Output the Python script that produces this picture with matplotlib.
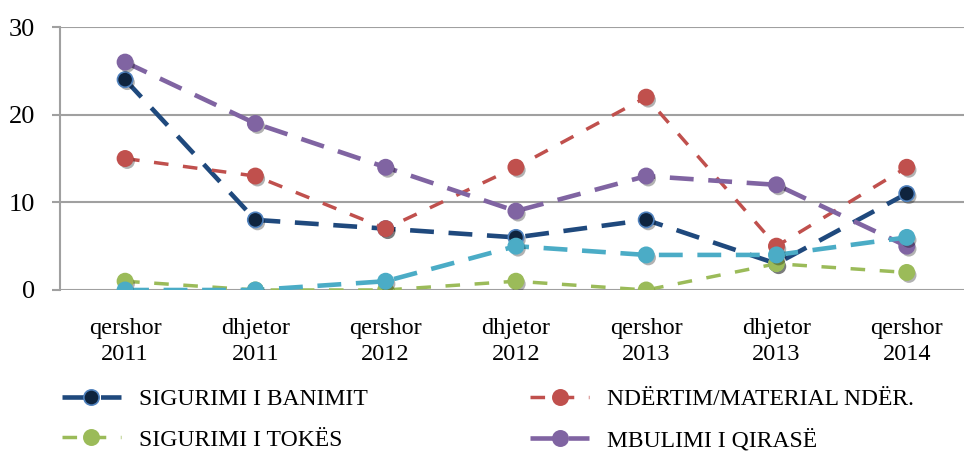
import matplotlib
matplotlib.use("Agg")
import matplotlib.pyplot as plt
import matplotlib.patheffects as pe

plt.rcParams['font.family'] = ['Liberation Serif', 'DejaVu Serif']

periods = ["qershor\n2011", "dhjetor\n2011", "qershor\n2012", "dhjetor\n2012",
           "qershor\n2013", "dhjetor\n2013", "qershor\n2014"]
banimit = [24, 8, 7, 6, 8, 3, 11]
ndertim = [15, 13, 7, 14, 22, 5, 14]
tokes = [1, 0, 0, 1, 0, 3, 2]
qirase = [26, 19, 14, 9, 13, 12, 5]
tjeter = [0, 0, 1, 5, 4, 4, 6]

fig = plt.figure(figsize=(9.64, 4.51), dpi=100)
ax = fig.add_axes([0.0622, 0.357, 0.946, 0.583])

shadow = [pe.SimplePatchShadow(offset=(1.5, -2), alpha=0.3, shadow_rgbFace='k'), pe.Normal()]
x = range(len(periods))

# series: (values, label, line colour, marker face, marker edge, width, dashes)
series = [
    (banimit, "SIGURIMI I BANIMIT", "#1F497D", "#0F243E", "#4F81BD", 3.3, (5.2, 3.2)),
    (ndertim, "NDËRTIM/MATERIAL NDËR.", "#C0504D", "#C0504D", "#C0504D", 2.5, (4.2, 4.2)),
    (tokes, "SIGURIMI I TOKËS", "#9BBB59", "#9BBB59", "#9BBB59", 2.5, (4.2, 4.2)),
    (qirase, "MBULIMI I QIRASË", "#8064A2", "#8064A2", "#8064A2", 3.3, (5.2, 3.2)),
    (tjeter, "_nolegend_", "#4BACC6", "#4BACC6", "#4BACC6", 3.3, (5.2, 3.2)),
]

handles = {}
for vals, label, col, face, edge, lw, dash in series:
    ax.plot(x, vals, color=col, lw=lw, dashes=dash, zorder=3)
    ax.plot(x, vals, ls='none', marker='o', markersize=11, markerfacecolor=face,
            markeredgecolor=edge, markeredgewidth=1.2, path_effects=shadow, zorder=4)
    ln, = ax.plot([], [], color=col, lw=lw, dashes=dash, marker='o', markersize=11,
                  markerfacecolor=face, markeredgecolor=edge, markeredgewidth=1.2)
    handles[label] = ln

ax.set_xlim(-0.5, 6.5)
ax.set_ylim(0, 30)
ax.set_yticks([0, 10, 20, 30])
ax.set_xticks(list(x))
ax.set_xticklabels(periods, fontsize=17.5, linespacing=1.35)
ax.tick_params(axis='y', labelsize=19, length=6, width=1.5, color='#A0A0A0', pad=12)
ax.tick_params(axis='x', length=0, pad=20)
ax.grid(axis='y', color='#A0A0A0', lw=1.5)
ax.set_axisbelow(True)
for s in ['top', 'right', 'bottom']:
    ax.spines[s].set_visible(False)
ax.spines['left'].set_color('#A0A0A0')
ax.spines['left'].set_linewidth(1.5)

order = ["SIGURIMI I BANIMIT", "SIGURIMI I TOKËS", "NDËRTIM/MATERIAL NDËR.", "MBULIMI I QIRASË"]
fig.legend([handles[k] for k in order], order, ncol=2, loc='upper left',
           bbox_to_anchor=(0.047, 0.175), frameon=False, fontsize=17,
           handlelength=2.5, columnspacing=6.9, labelspacing=0.8, handletextpad=0.75,
           borderpad=0.2)

fig.savefig("out.png", dpi=100)
